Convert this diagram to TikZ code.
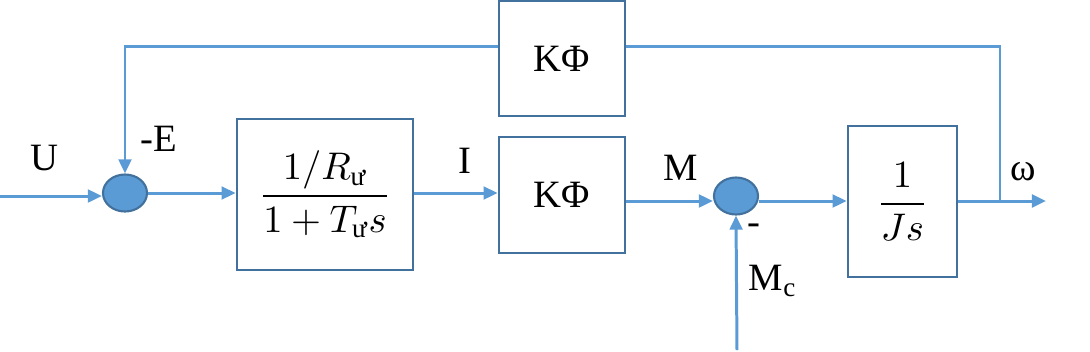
\documentclass[tikz,border=0pt]{standalone}
\usepackage{amsmath}
\usepackage{fontspec}
\setmainfont{Liberation Serif}
\usetikzlibrary{shapes.geometric,arrows.meta}
\definecolor{lineblue}{HTML}{5B9BD5}
\definecolor{boxblue}{HTML}{41719C}
\begin{document}
\begin{tikzpicture}[x=0.01cm,y=-0.01cm,
  conn/.style={draw=lineblue,line width=0.85pt},
  arr/.style={conn,-{Triangle[length=4pt,width=3.6pt]}},
  blk/.style={draw=boxblue,line width=0.75pt,fill=white,inner sep=0pt},
  sumnode/.style={ellipse,draw=boxblue,line width=0.6pt,fill=lineblue,minimum width=0.44cm,minimum height=0.37cm,inner sep=0pt},
  lbl/.style={font=\fontsize{11}{13}\selectfont,inner sep=0pt}]
\useasboundingbox (0,0) rectangle (1090,351);
% blocks
\node[blk,minimum width=1.26cm,minimum height=1.15cm,lbl] (k1) at (562,58.5) {KΦ};
\node[blk,minimum width=1.76cm,minimum height=1.51cm] (b1) at (325,194.5) {\fontsize{11}{13}\selectfont$\dfrac{1/R_{\text{ư}}}{1+T_{\text{ư}}s}$};
\node[blk,minimum width=1.26cm,minimum height=1.16cm,lbl] (k2) at (562,195) {KΦ};
\node[blk,minimum width=1.09cm,minimum height=1.51cm] (b3) at (902.5,201.5) {\fontsize{11}{13}\selectfont$\dfrac{1}{Js}$};
% summing junctions
\node[sumnode] (s1) at (125,193) {};
\node[sumnode] (s2) at (736,196) {};
% coordinates
\coordinate (in) at (0,196);
\coordinate (tap) at (1000,201);
\coordinate (fb) at (1000,46);
\coordinate (out) at (1046,201);
\coordinate (mc) at (737,350);
% connectors
\draw[arr] (in) -- (s1.west |- in);
\draw[arr] (s1.east) -- (s1.east -| b1.west);
\draw[arr] (b1.east |- s1.east) -- (b1.east |- s1.east -| k2.west);
\draw[arr] (k2.east |- tap) -- (s2.west |- tap);
\draw[arr] (s2.east |- tap) -- (b3.west |- tap);
\draw[arr] (b3.east |- tap) -- (out);
\draw[conn] (tap) -- (fb) -- (fb -| k1.east);
\draw[arr] (fb -| k1.west) -| (s1.north);
\draw[arr] (mc) -- (s2.south);
% labels
\node[lbl] (lu) at (44,158) {U};
\node[lbl] (le) at (159,139) {-E};
\node[lbl] (li) at (465,161) {I};
\node[lbl] (lm) at (681,168) {M};
\node[lbl] (lw) at (1023,172) {ω};
\node[lbl] (lmin) at (754,229) {-};
\node[lbl] (lmc) at (773,281) {M\textsubscript{c}};
\end{tikzpicture}
\end{document}
